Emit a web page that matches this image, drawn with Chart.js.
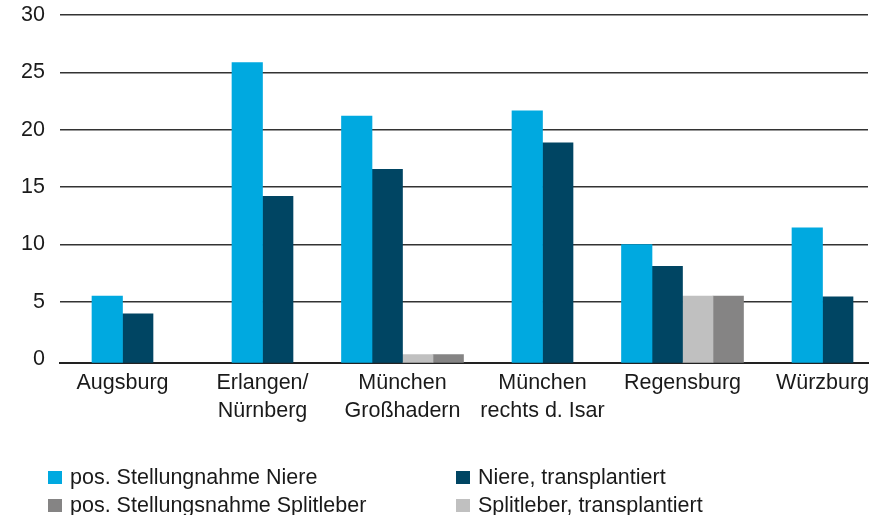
<!DOCTYPE html>
<html>
<head>
<meta charset="utf-8">
<script src="https://cdn.jsdelivr.net/npm/chart.js@4.4.1/dist/chart.umd.min.js"></script>
<style>
  html, body { margin: 0; padding: 0; background: #fff; overflow: hidden; }
  #wrap { position: relative; width: 888px; height: 515px; }
  #legend { position: absolute; left: 48px; top: 463px; width: 840px;
    display: grid; grid-template-columns: 408px 400px; row-gap: 0;
    font-family: "Liberation Sans", Arial, sans-serif; font-size: 21.5px; color: #1a1a1a; }
  .item { display: flex; align-items: center; height: 28px; white-space: nowrap; }
  .sw { width: 14px; height: 13px; margin-right: 8px; flex: none; }
</style>
</head>
<body>
<div id="wrap">
  <canvas id="chart" width="888" height="515"></canvas>
  <div id="legend"></div>
</div>
<script>
// Kategorien (Transplantationszentren)
const categories = [
  ['Augsburg'],
  ['Erlangen/', 'Nürnberg'],
  ['München', 'Großhadern'],
  ['München', 'rechts d. Isar'],
  ['Regensburg'],
  ['Würzburg']
];
const yTicks = [0, 5, 10, 15, 20, 25, 30];

const nierePos      = [5.5, 25.85, 21.2, 21.65, 10.0, 11.45];
const niereTx       = [3.95, 14.2, 16.55, 18.85, 8.1, 5.45];
const splitleberTx  = [null, null, 0.4, null, 5.5, null];
const splitleberPos = [null, null, 0.4, null, 5.5, null];

const Y_MIN = -0.3;

const datasets = [
  { label: 'pos. Stellungnahme Niere', data: nierePos, backgroundColor: '#00a9e0' },
  { label: 'Niere, transplantiert', data: niereTx, backgroundColor: '#004563' },
  { label: 'Splitleber, transplantiert', data: splitleberTx, backgroundColor: '#c0c0c0' },
  { label: 'pos. Stellungsnahme Splitleber', data: splitleberPos, backgroundColor: '#858484' }
];
datasets.forEach(d => { d.base = Y_MIN; d.barThickness = 30.5; d.borderWidth = 0; });

// legend order as in the picture: 2 columns
const legendOrder = [0, 1, 3, 2];
const legendEl = document.getElementById('legend');
legendOrder.forEach(i => {
  const it = document.createElement('div');
  it.className = 'item';
  it.innerHTML = '<span class="sw" style="background:' + datasets[i].backgroundColor + '"></span>' + datasets[i].label;
  legendEl.appendChild(it);
});

const font = { family: '"Liberation Sans", Arial, sans-serif', size: 21.5, lineHeight: 1.3 };

const ctx = document.getElementById('chart');
const mychart = new Chart(ctx, {
  type: 'bar',
  data: {
    labels: categories.map((c, i) => i),
    datasets: datasets
  },
  options: {
    responsive: false,
    animation: false,
    skipNull: true,
    layout: { padding: { top: 15, right: 20, left: 0, bottom: 0 } },
    plugins: { legend: { display: false }, tooltip: { enabled: false } },
    scales: {
      x: {
        type: 'linear',
        offset: false,
        min: -0.4464,
        max: 5.325,
        grid: { display: false, drawTicks: false },
        border: { display: true, color: '#222', width: 2 },
        afterBuildTicks: s => { s.ticks = categories.map((c, i) => ({ value: i })); },
        afterFit: s => { s.height = 152.3; s.paddingLeft = 0; s.paddingRight = 0; },
        ticks: {
          color: '#1a1a1a', font: font, padding: 6, maxRotation: 0, autoSkip: false,
          callback: v => categories[v]
        }
      },
      y: {
        min: Y_MIN,
        max: 30,
        grid: {
          drawTicks: false,
          lineWidth: 1.4,
          color: c => (c.tick && c.tick.value === 0) ? 'rgba(0,0,0,0)' : '#333'
        },
        border: { display: false },
        afterBuildTicks: s => { s.ticks = yTicks.map(v => ({ value: v })); },
        afterFit: s => { s.width = 60; s.paddingTop = 0; s.paddingBottom = 0; },
        ticks: { color: '#1a1a1a', font: font, padding: 15 }
      }
    }
  }
});
</script>
</body>
</html>
